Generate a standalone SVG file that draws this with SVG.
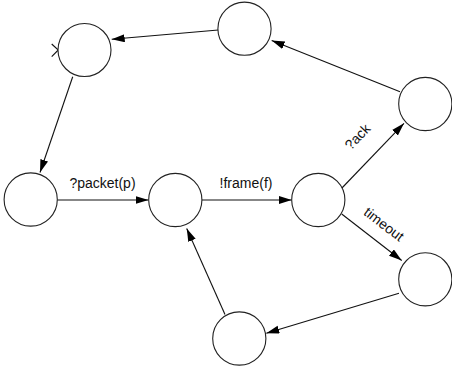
<svg xmlns="http://www.w3.org/2000/svg" width="452" height="371" viewBox="0 0 452 371">
<defs>
<marker id="arr" markerUnits="userSpaceOnUse" markerWidth="14" markerHeight="10" refX="13" refY="4" orient="auto">
<path d="M0,0 L13,4 L0,8 z" fill="#000"/>
</marker>
<style>
.st{fill:#fff;stroke:#222;stroke-width:1.1}
.ed{fill:none;stroke:#111;stroke-width:1.1;marker-end:url(#arr)}
.lb{font-family:"Liberation Sans",Arial,sans-serif;font-size:14px;fill:#111}
</style>
</defs>
<rect width="452" height="371" fill="#fff"/>
<g id="edges">
<path class="ed" d="M218.3,30 L111.7,39.3"/>
<path class="ed" d="M400,91.7 L271.7,40.5"/>
<path class="ed" d="M72.7,76.7 L40,172.5"/>
<path class="ed" d="M57.3,200 L148.5,200"/>
<path class="ed" d="M202,200 L291.7,200"/>
<path class="ed" d="M340.5,189.5 L404,123.3"/>
<path class="ed" d="M341.7,214 L401.7,260.5"/>
<path class="ed" d="M399,293.3 L266.3,333.3"/>
<path class="ed" d="M225,314.5 L186.7,228.5"/>
<path d="M51.7,44 L58.3,50 L51.7,56.7" fill="none" stroke="#111" stroke-width="1.1"/>
</g>
<g id="labels">
<text class="lb" x="102.5" y="187.5" text-anchor="middle">?packet(p)</text>
<text class="lb" x="246" y="187.5" text-anchor="middle">!frame(f)</text>
<text class="lb" x="0" y="0" text-anchor="middle" transform="translate(361,140) rotate(-46)">?ack</text>
<text class="lb" x="0" y="0" text-anchor="middle" transform="translate(381,228) rotate(37.5)">timeout</text>
</g>
<g id="sA"><circle class="st" cx="84.5" cy="50" r="26.5"/></g>
<g id="sB"><circle class="st" cx="244.5" cy="28.7" r="26.6"/></g>
<g id="sC"><circle class="st" cx="30.7" cy="199.5" r="26.6"/></g>
<g id="sD"><circle class="st" cx="175.3" cy="200" r="26.6"/></g>
<g id="sE"><circle class="st" cx="318.3" cy="200" r="26.6"/></g>
<g id="sF"><circle class="st" cx="425.3" cy="104" r="26.6"/></g>
<g id="sG"><circle class="st" cx="425.3" cy="279.3" r="26.6"/></g>
<g id="sH"><circle class="st" cx="239.3" cy="338.5" r="26.6"/></g>
</svg>
